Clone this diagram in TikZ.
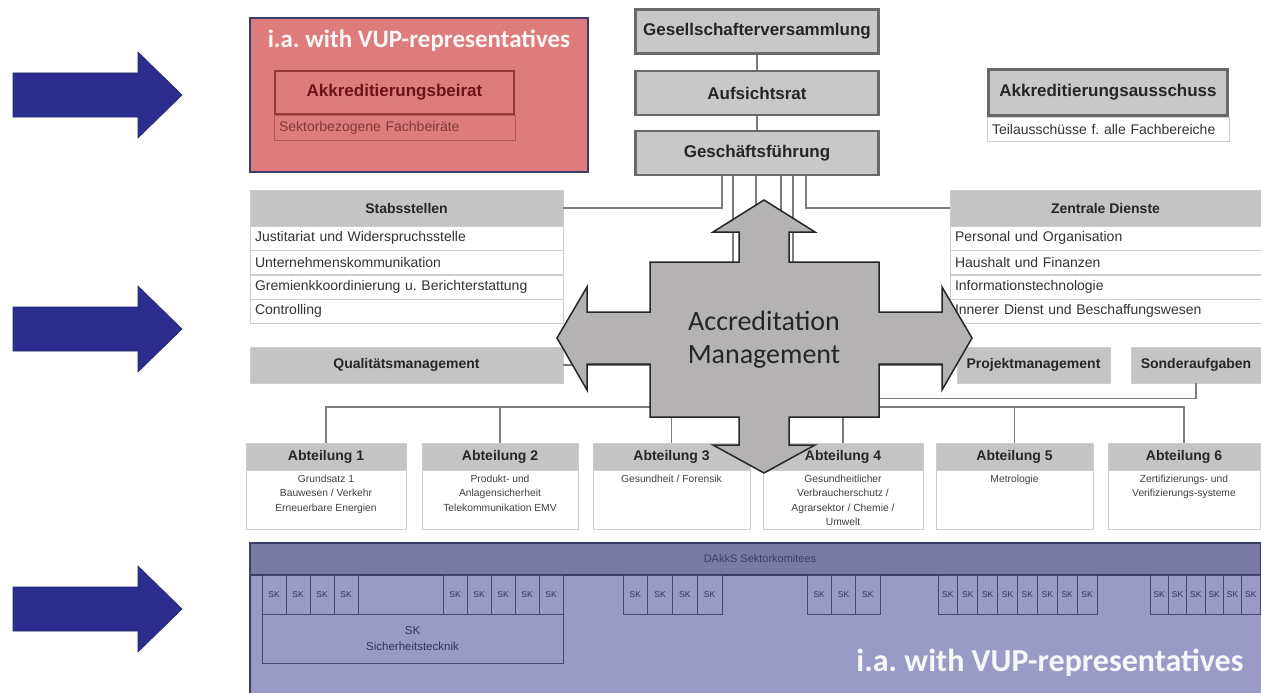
\documentclass[tikz,border=0pt]{standalone}
\usepackage{fontspec}
\setmainfont{Liberation Sans}
\newfontfamily\calibrifont{Carlito}
\usepackage{tikz}
\frenchspacing

\definecolor{navyarrow}{RGB}{43,46,140}
\definecolor{redpanel}{RGB}{222,123,124}
\definecolor{redline}{RGB}{150,55,60}
\definecolor{redtext}{RGB}{110,20,25}
\definecolor{boxgray}{RGB}{200,200,200}
\definecolor{boxline}{RGB}{105,105,105}
\definecolor{headgray}{RGB}{196,196,196}
\definecolor{rowline}{RGB}{205,205,205}
\definecolor{connline}{RGB}{125,125,125}
\definecolor{bluepanel}{RGB}{154,154,198}
\definecolor{blueband}{RGB}{122,122,164}
\definecolor{blueline}{RGB}{60,60,105}
\definecolor{skline}{RGB}{70,70,120}
\definecolor{sktext}{RGB}{50,50,95}
\definecolor{accgray}{RGB}{180,178,178}

\tikzset{
  topbox/.style={draw=boxline, line width=2.5pt, fill=boxgray, minimum width=243pt, minimum height=44pt, font=\fontsize{17}{20}\selectfont\bfseries, text=black!85},
  redbox/.style={draw=redline, line width=2.5pt, minimum width=239pt, minimum height=43pt, font=\fontsize{17}{20}\selectfont\bfseries, text=redtext},
  headbox/.style={fill=headgray, draw=rowline, minimum height=36pt, font=\fontsize{14}{16}\selectfont\bfseries, text=black!85},
  rowbox/.style={draw=rowline, fill=white, minimum height=24pt, inner xsep=5pt, align=left, font=\fontsize{14}{16}\selectfont, text=black!80},
  abthead/.style={fill=headgray, draw=rowline, minimum height=27pt, font=\fontsize{14}{16}\selectfont\bfseries, text=black!85},
  abtbody/.style={draw=rowline, fill=white, minimum height=59pt},
  abttext/.style={anchor=north, align=center, inner sep=2pt, yshift=-3pt, font=\fontsize{10.3}{14.5}\selectfont, text=black!75},
  conn/.style={draw=connline, line width=1.4pt},
  skcell/.style={draw=skline, line width=0.8pt, minimum height=39pt, inner sep=0pt, font=\fontsize{8.5}{10}\selectfont, text=sktext},
  navy/.style={fill=navyarrow, draw=navyarrow!80!black, line width=0.6pt},
}

\begin{document}
\begin{tikzpicture}[x=1pt, y=-1pt]
\useasboundingbox (0,0) rectangle (1261,693);

\draw[navy] (13,95) ++(0,-22) -- ++(125,0) -- ++(0,-21) -- ++(44,43) -- ++(-44,43) -- ++(0,-21) -- ++(-125,0) -- cycle;
\draw[navy] (13,329) ++(0,-22) -- ++(125,0) -- ++(0,-21) -- ++(44,43) -- ++(-44,43) -- ++(0,-21) -- ++(-125,0) -- cycle;
\draw[navy] (13,609) ++(0,-22) -- ++(125,0) -- ++(0,-21) -- ++(44,43) -- ++(-44,43) -- ++(0,-21) -- ++(-125,0) -- cycle;

\draw[fill=redpanel, draw=blueline, line width=1.2pt] (250,18) rectangle (588,172);
\node[font=\calibrifont\bfseries\fontsize{25}{30}\selectfont, text=white!94!redpanel] at (419,41) (redtitle) {i.a. with VUP-representatives};
\node[redbox] at (394.5,92.5) (akb) {Akkreditierungsbeirat};
\node[draw=redline!55!redpanel, line width=0.8pt, minimum height=25pt, text width=231pt, inner xsep=5pt, align=left, font=\fontsize{14}{16}\selectfont, text=redtext!85] at (394.5,127.5) (akbsub) {Sektorbezogene Fachbeiräte};

\node[topbox] at (757,31.5) (gv) {Gesellschafterversammlung};
\node[topbox] at (757,93) (ar) {Aufsichtsrat};
\node[topbox] at (757,153) (gf) {Geschäftsführung};

\node[topbox, minimum width=239pt, minimum height=46pt] at (1108,92.5) (aa) {Akkreditierungsausschuss};
\node[rowbox, text width=232pt] at (1108,129) (aasub) {Teilausschüsse f. alle Fachbereiche};

\node[headbox, minimum width=313pt] at (406.5,208) (stab) {Stabsstellen};
\node[rowbox, text width=303pt] at (406.5,238) (s1) {Justitariat und Widerspruchsstelle};
\node[rowbox, text width=303pt] at (406.5,262.5) (s2) {Unternehmenskommunikation};
\node[rowbox, text width=303pt] at (406.5,287) (s3) {Gremienkkoordinierung u. Berichterstattung};
\node[rowbox, text width=303pt] at (406.5,311) (s4) {Controlling};
\node[headbox, minimum width=313pt] at (406.5,365) (qm) {Qualitätsmanagement};

\node[headbox, minimum width=311pt] at (1105.5,208) (zd) {Zentrale Dienste};
\node[rowbox, text width=301pt] at (1105.5,238) (z1) {Personal und Organisation};
\node[rowbox, text width=301pt] at (1105.5,262.5) (z2) {Haushalt und Finanzen};
\node[rowbox, text width=301pt] at (1105.5,287) (z3) {Informationstechnologie};
\node[rowbox, text width=301pt] at (1105.5,311) (z4) {Innerer Dienst und Beschaffungswesen};
\node[headbox, minimum width=153pt] at (1033.5,365) (pm) {Projektmanagement};
\node[headbox, minimum width=130pt] at (1196,365) (sa) {Sonderaufgaben};

\node[abthead, minimum width=160pt] at (326,456.5) (a1) {Abteilung 1};
\node[abthead, minimum width=156pt] at (500,456.5) (a2) {Abteilung 2};
\node[abthead, minimum width=157pt] at (671.5,456.5) (a3) {Abteilung 3};
\node[abthead, minimum width=160pt] at (843,456.5) (a4) {Abteilung 4};
\node[abthead, minimum width=157pt] at (1014.5,456.5) (a5) {Abteilung 5};
\node[abthead, minimum width=152pt] at (1184,456.5) (a6) {Abteilung 6};
\node[abtbody, minimum width=160pt] at (326,499.5) (b1) {};
\node[abtbody, minimum width=156pt] at (500,499.5) (b2) {};
\node[abtbody, minimum width=157pt] at (671.5,499.5) (b3) {};
\node[abtbody, minimum width=160pt] at (843,499.5) (b4) {};
\node[abtbody, minimum width=157pt] at (1014.5,499.5) (b5) {};
\node[abtbody, minimum width=152pt] at (1184,499.5) (b6) {};
\node[abttext] at (b1.north) (t1) {Grundsatz 1\\Bauwesen / Verkehr\\Erneuerbare Energien};
\node[abttext] at (b2.north) (t2) {Produkt- und\\Anlagensicherheit\\Telekommunikation EMV};
\node[abttext] at (b3.north) (t3) {Gesundheit / Forensik};
\node[abttext] at (b4.north) (t4) {Gesundheitlicher\\Verbraucherschutz /\\Agrarsektor / Chemie /\\Umwelt};
\node[abttext] at (b5.north) (t5) {Metrologie};
\node[abttext] at (b6.north) (t6) {Zertifizierungs- und\\Verifizierungs-systeme};

\coordinate (bus) at (756,407);

\draw[conn] (gv) -- (ar);
\draw[conn] (ar) -- (gf);
\draw[conn] ([xshift=-35pt]gf.south) |- (stab.east);
\draw[conn] ([xshift=-24pt]gf.south) |- (qm.east);
\draw[conn] (gf.south -| bus) -- (bus);
\draw[conn] ([xshift=24pt]gf.south) |- (pm.west);
\draw[conn] ([xshift=36pt]gf.south) |- ([yshift=-15pt]sa.south) -- (sa.south);
\draw[conn] ([xshift=49pt]gf.south) |- (zd.west);
\draw[conn] (a1.north) -- (a1.north |- bus) -- (a6.north |- bus) -- (a6.north);
\draw[conn] (a2.north) -- (a2.north |- bus);
\draw[conn] (a3.north) -- (a3.north |- bus);
\draw[conn] (a4.north) -- (a4.north |- bus);
\draw[conn] (a5.north) -- (a5.north |- bus);

\draw[fill=accgray, draw=black!85, line width=1.5pt, line join=miter] (764,200) -- (815,232) -- (789,232) -- (789,262) -- (879,262) -- (879,312) -- (942,312) -- (942,287) -- (972,338) -- (942,390) -- (942,364) -- (879,364) -- (879,417) -- (789,417) -- (789,445) -- (815,445) -- (764,473) -- (713,445) -- (739,445) -- (739,417) -- (650,417) -- (650,364) -- (587,364) -- (587,390) -- (557,338) -- (587,287) -- (587,312) -- (650,312) -- (650,262) -- (739,262) -- (739,232) -- (713,232) -- cycle;
\node[font=\calibrifont\fontsize{28}{33}\selectfont, align=center, text=black!85] at (764,340) (am) {Accreditation\\Management};

\fill[bluepanel] (250,543) rectangle (1261,693);
\draw[blueline, line width=1.2pt] (250,693) -- (250,543) -- (1261,543);
\draw[fill=blueband, draw=blueline, line width=1.5pt] (250,543) rectangle (1261,575);
\node[font=\fontsize{11}{13}\selectfont, text=blueline] at (760,559) (dks) {DAkkS Sektorkomitees};

\node[draw=skline, line width=0.8pt, minimum width=301pt, minimum height=49pt, align=center, font=\fontsize{11.5}{16}\selectfont, text=sktext] at (412.5,638.5) (sksich) {SK\\Sicherheitstecknik};
\node[skcell, minimum width=24pt] at (274,594.5) (k1) {SK};
\node[skcell, minimum width=24pt] at (298,594.5) (k2) {SK};
\node[skcell, minimum width=24pt] at (322,594.5) (k3) {SK};
\node[skcell, minimum width=24pt] at (346,594.5) (k4) {SK};
\node[skcell, minimum width=24pt] at (455,594.5) (k5) {SK};
\node[skcell, minimum width=24pt] at (479,594.5) (k6) {SK};
\node[skcell, minimum width=24pt] at (503,594.5) (k7) {SK};
\node[skcell, minimum width=24pt] at (527,594.5) (k8) {SK};
\node[skcell, minimum width=24pt] at (551,594.5) (k9) {SK};
\node[skcell, minimum width=24.75pt] at (635.4,594.5) (k10) {SK};
\node[skcell, minimum width=24.75pt] at (660.1,594.5) (k11) {SK};
\node[skcell, minimum width=24.75pt] at (684.9,594.5) (k12) {SK};
\node[skcell, minimum width=24.75pt] at (709.6,594.5) (k13) {SK};
\node[skcell, minimum width=24.33pt] at (819.2,594.5) (k14) {SK};
\node[skcell, minimum width=24.33pt] at (843.5,594.5) (k15) {SK};
\node[skcell, minimum width=24.33pt] at (867.8,594.5) (k16) {SK};
\node[skcell, minimum width=19.88pt] at (947.9,594.5) (k17) {SK};
\node[skcell, minimum width=19.88pt] at (967.8,594.5) (k18) {SK};
\node[skcell, minimum width=19.88pt] at (987.7,594.5) (k19) {SK};
\node[skcell, minimum width=19.88pt] at (1007.6,594.5) (k20) {SK};
\node[skcell, minimum width=19.88pt] at (1027.4,594.5) (k21) {SK};
\node[skcell, minimum width=19.88pt] at (1047.3,594.5) (k22) {SK};
\node[skcell, minimum width=19.88pt] at (1067.2,594.5) (k23) {SK};
\node[skcell, minimum width=19.88pt] at (1087.1,594.5) (k24) {SK};
\node[skcell, minimum width=18.33pt] at (1159.2,594.5) (k25) {SK};
\node[skcell, minimum width=18.33pt] at (1177.5,594.5) (k26) {SK};
\node[skcell, minimum width=18.33pt] at (1195.8,594.5) (k27) {SK};
\node[skcell, minimum width=18.33pt] at (1214.2,594.5) (k28) {SK};
\node[skcell, minimum width=18.33pt] at (1232.5,594.5) (k29) {SK};
\node[skcell, minimum width=18.33pt] at (1250.8,594.5) (k30) {SK};

\node[font=\calibrifont\bfseries\fontsize{32}{38}\selectfont, text=white!92!bluepanel] at (1050,663) (bluetitle) {i.a. with VUP-representatives};
\end{tikzpicture}
\end{document}
